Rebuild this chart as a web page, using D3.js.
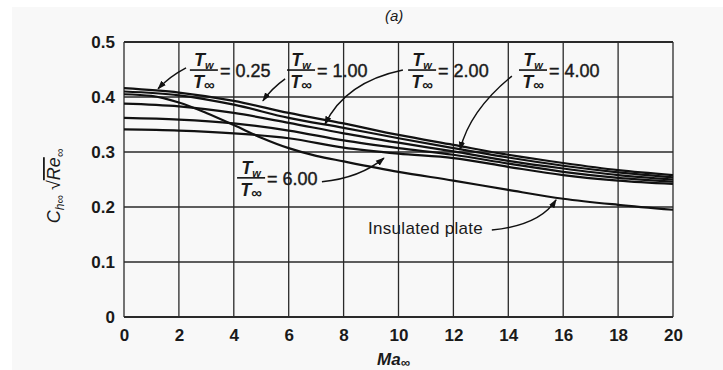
<!DOCTYPE html>
<html>
<head>
<meta charset="utf-8">
<script src="https://cdn.jsdelivr.net/npm/d3@7"></script>
<style>
  html, body { margin: 0; padding: 0; background: #ffffff; }
  svg { display: block; }
  text { font-family: "Liberation Sans", Arial, Helvetica, sans-serif; fill: #1a1a1a; }
</style>
</head>
<body>
<svg id="chart" width="723" height="370"></svg>
<script>
// ---------------- data ----------------
const machValues = [0, 2, 4, 6, 8, 10, 12, 14, 16, 18, 20];
const seriesTw025 = [0.416, 0.408, 0.393, 0.371, 0.352, 0.331, 0.313, 0.295, 0.280, 0.267, 0.258];
const seriesTw100 = [0.410, 0.403, 0.386, 0.362, 0.344, 0.325, 0.307, 0.290, 0.275, 0.263, 0.254];
const seriesTw200 = [0.388, 0.383, 0.371, 0.353, 0.334, 0.317, 0.301, 0.284, 0.270, 0.258, 0.250];
const seriesTw400 = [0.362, 0.359, 0.352, 0.339, 0.321, 0.307, 0.295, 0.279, 0.264, 0.253, 0.246];
const seriesTw600 = [0.341, 0.339, 0.334, 0.325, 0.308, 0.297, 0.289, 0.273, 0.258, 0.248, 0.242];
const insulatedMach = [0, 1, 2, 3, 4, 5, 6, 7, 8, 10, 12, 14, 16, 18, 20];
const insulatedValues = [0.405, 0.402, 0.390, 0.371, 0.349, 0.326, 0.307, 0.293, 0.283, 0.264, 0.248, 0.231, 0.215, 0.204, 0.195];
const xTicks = [0, 2, 4, 6, 8, 10, 12, 14, 16, 18, 20];
const yTicks = [0, 0.1, 0.2, 0.3, 0.4, 0.5];
const yTickLabels = ["0", "0.1", "0.2", "0.3", "0.4", "0.5"];
const ratioLabels = ["0.25", "1.00", "2.00", "4.00", "6.00"];

// ---------------- setup ----------------
const svg = d3.select("#chart");
svg.append("rect").attr("x", 12).attr("y", 7).attr("width", 711).attr("height", 363).attr("fill", "#f8f8f8");

const x = d3.scaleLinear().domain([0, 20]).range([124, 673]);
const y = d3.scaleLinear().domain([0, 0.5]).range([317, 42]);

// grid
const grid = svg.append("g").attr("stroke", "#2a2a2a").attr("stroke-width", 1.3);
grid.selectAll("line.v").data(xTicks).join("line")
  .attr("x1", d => x(d)).attr("x2", d => x(d))
  .attr("y1", y(0)).attr("y2", y(0.5));
grid.selectAll("line.h").data(yTicks).join("line")
  .attr("x1", x(0)).attr("x2", x(20))
  .attr("y1", d => y(d)).attr("y2", d => y(d))
  .attr("stroke-width", d => (d === 0.5 || d === 0) ? 2 : 1.3);

// axes (labels only)
const xAxis = d3.axisBottom(x).tickValues(xTicks).tickSize(0).tickPadding(12).tickFormat(d3.format("d"));
const gx = svg.append("g").attr("transform", `translate(0,${y(0)})`).call(xAxis);
gx.select(".domain").remove();
gx.selectAll("text").style("font-size", "17px").style("font-weight", "bold").attr("fill", "#1a1a1a");

const yAxis = d3.axisLeft(y).tickValues(yTicks).tickSize(0).tickPadding(9).tickFormat((d, i) => yTickLabels[i]);
const gy = svg.append("g").attr("transform", `translate(${x(0)},0)`).call(yAxis);
gy.select(".domain").remove();
gy.selectAll("text").style("font-size", "17px").style("font-weight", "bold").attr("fill", "#1a1a1a");

// curves
const line = d3.line().x(d => x(d[0])).y(d => y(d[1])).curve(d3.curveMonotoneX);
const allSeries = [seriesTw025, seriesTw100, seriesTw200, seriesTw400, seriesTw600];
svg.append("g").selectAll("path").data(allSeries).join("path")
  .attr("d", s => line(machValues.map((m, i) => [m, s[i]])))
  .attr("fill", "none").attr("stroke", "#111").attr("stroke-width", 2.2);
svg.append("path")
  .attr("d", line(insulatedMach.map((m, i) => [m, insulatedValues[i]])))
  .attr("fill", "none").attr("stroke", "#111").attr("stroke-width", 2.2);

// arrow marker
svg.append("defs").append("marker")
  .attr("id", "ah").attr("viewBox", "0 0 10 10").attr("refX", 9).attr("refY", 5)
  .attr("markerWidth", 9).attr("markerHeight", 9).attr("orient", "auto-start-reverse")
  .attr("markerUnits", "userSpaceOnUse")
  .append("path").attr("d", "M0,1.5 L10,5 L0,8.5 Z").attr("fill", "#111");

// annotations: fraction labels (data coordinates)
const fracPos = [[2.91, 0.449], [6.45, 0.449], [10.86, 0.449], [14.9, 0.449], [4.63, 0.253]];
function fraction(xc, ybar, val) {
  const g = svg.append("g");
  const px = x(xc), py = y(ybar);
  g.append("line").attr("x1", px - 14).attr("x2", px + 14).attr("y1", py).attr("y2", py)
    .attr("stroke", "#111").attr("stroke-width", 1.6);
  const num = g.append("text").attr("x", px).attr("y", py - 4).attr("text-anchor", "middle")
    .style("font-size", "18px").style("font-style", "italic").style("font-weight", "bold");
  num.append("tspan").text("T");
  num.append("tspan").attr("dy", 3).style("font-size", "11px").text("w");
  const den = g.append("text").attr("x", px).attr("y", py + 18).attr("text-anchor", "middle")
    .style("font-size", "18px").style("font-style", "italic").style("font-weight", "bold");
  den.append("tspan").text("T");
  den.append("tspan").attr("dy", 2).style("font-size", "15px").style("font-style", "normal").text("∞");
  g.append("text").attr("x", px + 16).attr("y", py + 7)
    .style("font-size", "18px").attr("stroke", "#1a1a1a").attr("stroke-width", 0.4)
    .text("= " + val);
}
ratioLabels.forEach((v, i) => fraction(fracPos[i][0], fracPos[i][1], v));

// arrows: [start, control, tip] in data coordinates
const arrows = [
  [[2.26, 0.453], [1.68, 0.438], [1.24, 0.415]],
  [[5.87, 0.433], [5.39, 0.416], [5.06, 0.393]],
  [[10.16, 0.449], [8.05, 0.427], [7.32, 0.350]],
  [[14.13, 0.438], [12.6, 0.376], [12.24, 0.304]],
  [[7.21, 0.246], [8.6, 0.253], [9.47, 0.289]],
  [[13.4, 0.158], [15.15, 0.167], [15.74, 0.213]]
];
svg.append("g").selectAll("path").data(arrows).join("path")
  .attr("d", a => `M${x(a[0][0])},${y(a[0][1])} Q${x(a[1][0])},${y(a[1][1])} ${x(a[2][0])},${y(a[2][1])}`)
  .attr("fill", "none").attr("stroke", "#111").attr("stroke-width", 1.5)
  .attr("marker-end", "url(#ah)");

svg.append("text").attr("x", x(8.89)).attr("y", y(0.151))
  .style("font-size", "17px").style("letter-spacing", "0.3px").text("Insulated plate");

// titles
svg.append("text").attr("x", 385).attr("y", 21).style("font-size", "15px").style("font-style", "italic")
  .attr("fill", "#222").text("(a)");

const xt = svg.append("text").attr("x", 377).attr("y", 365)
  .style("font-size", "17px").style("font-style", "italic").style("font-weight", "bold");
xt.append("tspan").text("Ma");
xt.append("tspan").attr("dy", 2).style("font-size", "13px").text("∞");

const yt = svg.append("text").attr("transform", "translate(60,186) rotate(-90)").attr("text-anchor", "middle")
  .style("font-size", "18px").style("font-style", "italic");
yt.append("tspan").text("C");
yt.append("tspan").attr("dy", 4).style("font-size", "12px").text("h∞");
yt.append("tspan").attr("dy", -4).style("font-style", "normal").text(" √");
yt.append("tspan").style("text-decoration", "overline").text("Re");
yt.append("tspan").attr("dy", 4).style("font-size", "12px").text("∞");
</script>
</body>
</html>
